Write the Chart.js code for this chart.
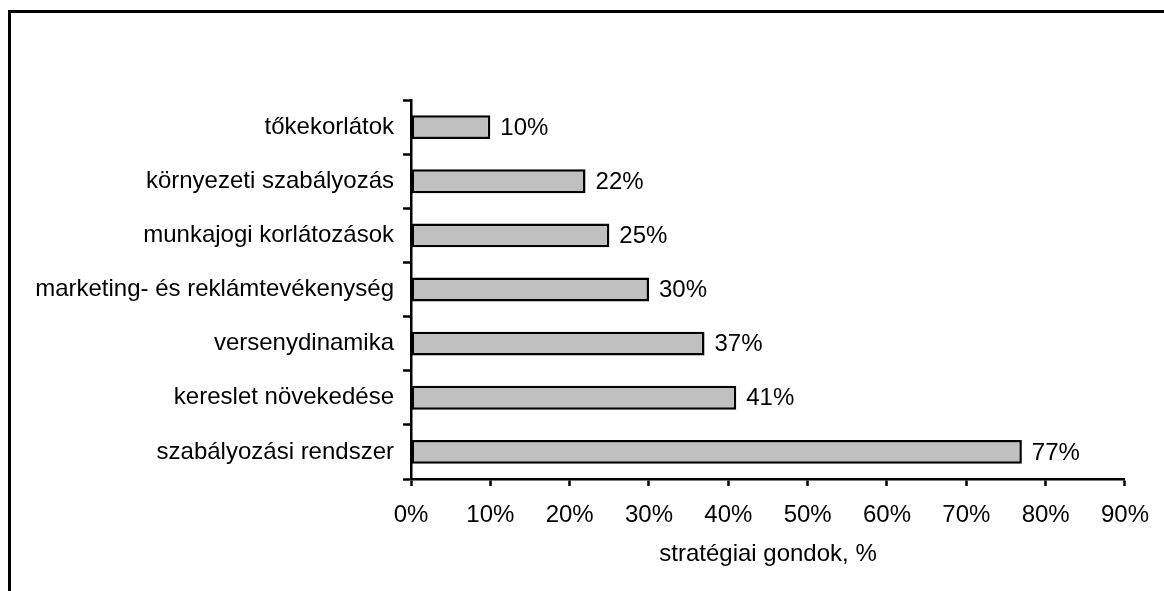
<!DOCTYPE html>
<html>
<head>
<meta charset="utf-8">
<script src="https://cdn.jsdelivr.net/npm/chart.js@4"></script>
<style>
  html, body { margin: 0; padding: 0; background: #fff; }
  #wrap { width: 1164px; height: 591px; position: relative; }
</style>
</head>
<body>
<div id="wrap"><canvas id="c" width="1164" height="591"></canvas></div>
<script>
const categories = ["tőkekorlátok", "környezeti szabályozás", "munkajogi korlátozások", "marketing- és reklámtevékenység", "versenydinamika", "kereslet növekedése", "szabályozási rendszer"];
const values = [10, 22, 25, 30, 37, 41, 77];
const xTicks = [0, 10, 20, 30, 40, 50, 60, 70, 80, 90];
const xTitle = "stratégiai gondok, %";

const FONT = "'Liberation Sans', Arial, sans-serif";
const FS = 24;

const framePlugin = {
  id: 'frame',
  beforeDraw(chart) {
    const ctx = chart.ctx;
    ctx.save();
    ctx.fillStyle = '#fff';
    ctx.fillRect(0, 0, chart.width, chart.height);
    ctx.strokeStyle = '#000';
    ctx.lineWidth = 3;
    ctx.beginPath();
    ctx.moveTo(9.5, chart.height);
    ctx.lineTo(9.5, 11.5);
    ctx.lineTo(chart.width, 11.5);
    ctx.stroke();
    ctx.restore();
  }
};

const labelPlugin = {
  id: 'valueLabels',
  afterDatasetsDraw(chart) {
    const ctx = chart.ctx;
    const meta = chart.getDatasetMeta(0);
    ctx.save();
    ctx.font = FS + "px " + FONT;
    ctx.fillStyle = '#000';
    ctx.textAlign = 'left';
    ctx.textBaseline = 'middle';
    meta.data.forEach((bar, i) => {
      ctx.fillText(values[i] + '%', bar.x + 10, bar.y + 1);
    });
    ctx.restore();
  }
};

new Chart(document.getElementById('c'), {
  type: 'bar',
  data: {
    labels: categories,
    datasets: [{
      data: values,
      backgroundColor: '#C0C0C0',
      borderColor: '#000',
      borderWidth: 2.5,
      borderSkipped: false,
      barPercentage: 0.44,
      categoryPercentage: 1.0
    }]
  },
  options: {
    indexAxis: 'y',
    responsive: false,
    animation: false,
    events: [],
    layout: { padding: { top: 100, right: 34, left: 0, bottom: 22 } },
    plugins: { legend: { display: false }, tooltip: { enabled: false } },
    scales: {
      x: {
        type: 'linear',
        min: 0, max: 90,
        afterBuildTicks(scale) { scale.ticks = xTicks.map(v => ({ value: v })); },
        afterFit(scale) { scale.height = 90; },
        grid: { drawOnChartArea: false, drawTicks: true, tickLength: 7, tickWidth: 2.5, tickColor: '#000' },
        border: { display: true, color: '#000', width: 2.5 },
        ticks: {
          color: '#000',
          font: { family: FONT, size: FS },
          padding: 15,
          maxRotation: 0,
          callback: (v) => v + '%'
        },
        title: {
          display: true,
          text: xTitle,
          color: '#000',
          font: { family: FONT, size: FS },
          padding: { top: 0, bottom: 0 }
        }
      },
      y: {
        type: 'category',
        afterFit(scale) { scale.width = 411; },
        grid: { drawOnChartArea: false, drawTicks: true, tickLength: 8, tickWidth: 2.5, tickColor: '#000', offset: true },
        border: { display: true, color: '#000', width: 2.5 },
        ticks: {
          color: '#000',
          font: { family: FONT, size: FS },
          padding: 9
        }
      }
    }
  },
  plugins: [framePlugin, labelPlugin]
});
</script>
</body>
</html>
